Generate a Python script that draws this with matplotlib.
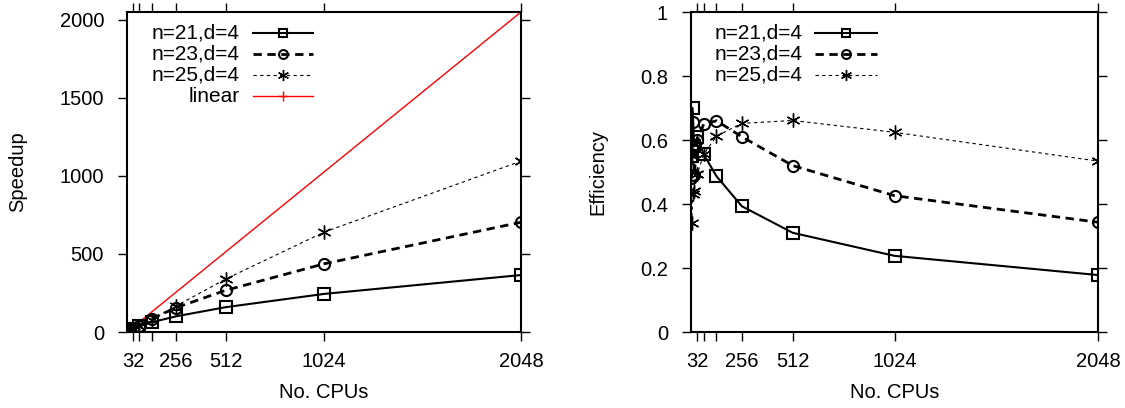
import matplotlib
matplotlib.use('Agg')
from matplotlib import pyplot as plt

plt.rcParams['font.family'] = ['Liberation Sans', 'DejaVu Sans']
plt.rcParams['font.size'] = 15

# CPU counts for each run
cpus_21 = [2, 4, 8, 16, 32, 64, 128, 256, 512, 1024, 2048]
cpus_23 = [2, 4, 8, 16, 32, 64, 128, 256, 512, 1024, 2048]
cpus_25 = [4, 8, 16, 32, 64, 128, 256, 512, 1024, 2048]
cpus_lin = [1, 2048]

# speedup (left panel)
speed_21 = [1.1, 2.2, 5.6, 9.3, 19.5, 35.5, 62.3, 100.6, 158.7, 243.7, 364.5]
speed_23 = [1.0, 2.0, 5.2, 7.8, 19.2, 41.6, 84.5, 156.2, 266.2, 436.2, 702.5]
speed_25 = [1.4, 3.4, 7.0, 15.8, 35.5, 78.3, 166.9, 338.4, 639.0, 1093.6]
speed_lin = [1, 2048]

# efficiency (right panel)
eff_21 = [0.55, 0.55, 0.70, 0.58, 0.61, 0.555, 0.487, 0.393, 0.31, 0.238, 0.178]
eff_23 = [0.48, 0.49, 0.655, 0.49, 0.60, 0.65, 0.66, 0.61, 0.52, 0.426, 0.343]
eff_25 = [0.34, 0.43, 0.44, 0.495, 0.555, 0.612, 0.652, 0.661, 0.624, 0.534]

xticks = [32, 64, 128, 256, 512, 1024, 2048]
xticklabels = ['32', '', '', '256', '512', '1024', '2048']

labels = ['n=21,d=4', 'n=23,d=4', 'n=25,d=4', 'linear']

star = (6, 2, 0)
st21 = dict(color='k', lw=1.5, ls='-', marker='s', ms=8, mfc='none', mew=1.5)
st23 = dict(color='k', lw=2.0, ls=(0, (3, 2)), marker='o', ms=8, mfc='none', mew=1.5)
st25 = dict(color='k', lw=0.8, ls=(0, (3, 3)), marker=star, ms=10, mew=1.0)
stlin = dict(color='red', lw=1.0, ls='-', marker='+', ms=9, mew=1.0)

fig = plt.figure(figsize=(11.25, 4.08), dpi=100)
ax1 = fig.add_axes([127 / 1125, 76 / 408, 394 / 1125, 320 / 408])
ax2 = fig.add_axes([691 / 1125, 76 / 408, 407 / 1125, 320 / 408])


def style_axes(ax):
    ax.set_xlim(0, 2048)
    ax.set_xticks(xticks)
    ax.set_xticklabels(xticklabels)
    ax.tick_params(direction='out', length=6.5, width=1.0, top=True, right=True,
                   labelsize=14.5)
    ax.tick_params(axis='y', pad=10)
    ax.tick_params(axis='x', pad=8)
    for s in ax.spines.values():
        s.set_linewidth(1.5)
    ax.set_xlabel('No. CPUs', fontsize=14.5, va='top')
    ax.xaxis.set_label_coords(0.5, -0.16)


def legend_row(ax, y, text, st, x_text, x0, x1):
    ax.text(x_text, y, text, transform=ax.transAxes, ha='right', va='center',
            fontsize=15)
    line_st = {k: v for k, v in st.items() if k not in ('marker', 'ms', 'mfc', 'mew')}
    ax.plot([x0, x1], [y, y], transform=ax.transAxes, clip_on=False, **line_st)
    mk = {k: v for k, v in st.items() if k in ('marker', 'mfc', 'mew', 'color')}
    ax.plot([(x0 + x1) / 2], [y], transform=ax.transAxes, clip_on=False,
            ls='none', ms=st['ms'] * 0.8, **mk)


# left: speedup
ax1.plot(cpus_lin, speed_lin, color='red', lw=1.0, zorder=1)
ax1.plot(cpus_21, speed_21, **st21)
ax1.plot(cpus_23, speed_23, **st23)
ax1.plot(cpus_25, speed_25, **st25)
ax1.set_ylim(0, 2048)
ax1.set_yticks([0, 500, 1000, 1500, 2000])
style_axes(ax1)
ax1.set_ylabel('Speedup', fontsize=14.5, va='center')
ax1.yaxis.set_label_coords(-0.277, 0.5)

rows = [33, 54, 75, 96]
for y, lab, st in zip(rows, labels, [st21, st23, st25, stlin]):
    yy = (332 - y) / 320
    legend_row(ax1, yy, lab, st, (240 - 127) / 394, (253 - 127) / 394, (313 - 127) / 394)

# right: efficiency
ax2.plot(cpus_21, eff_21, **st21)
ax2.plot(cpus_23, eff_23, **st23)
ax2.plot(cpus_25, eff_25, **st25)
ax2.set_ylim(0, 1)
ax2.set_yticks([0, 0.2, 0.4, 0.6, 0.8, 1.0])
ax2.set_yticklabels(['0', '0.2', '0.4', '0.6', '0.8', '1'])
style_axes(ax2)
ax2.set_ylabel('Efficiency', fontsize=14.5, va='center')
ax2.yaxis.set_label_coords(-0.229, 0.5)

for y, lab, st in zip(rows[:3], labels[:3], [st21, st23, st25]):
    yy = (332 - y) / 320
    legend_row(ax2, yy, lab, st, (803 - 691) / 407, (815 - 691) / 407, (877 - 691) / 407)

fig.savefig('out.png', dpi=100)
